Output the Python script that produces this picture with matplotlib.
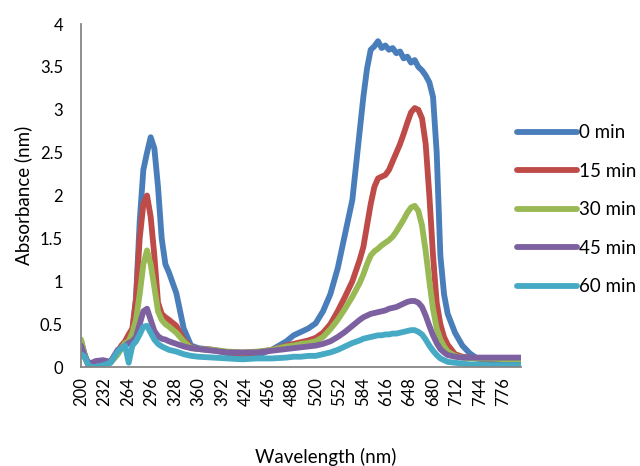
import numpy as np
import matplotlib.pyplot as plt

plt.rcParams['font.family'] = ['Lato', 'DejaVu Sans']

wl = [200, 205, 210, 215, 220, 230, 240, 250, 255, 260, 265, 270, 275, 280, 285,
      290, 295, 300, 305, 310, 315, 320, 330, 340, 350, 360, 380, 400, 420, 440,
      460, 480, 490, 500, 510, 520, 530, 540, 550, 560, 570, 580, 585, 590, 595,
      600, 605, 610, 615, 620, 625, 630, 635, 640, 645, 650, 655, 660, 665, 670,
      675, 680, 685, 690, 695, 700, 710, 720, 730, 740, 760, 780, 800]

abs_0 = [0.30, 0.15, 0.03, 0.00, 0.00, 0.02, 0.05, 0.15, 0.22, 0.25, 0.30, 0.40, 0.80, 1.70, 2.30,
         2.50, 2.68, 2.55, 2.10, 1.50, 1.20, 1.10, 0.86, 0.45, 0.25, 0.22, 0.20, 0.16, 0.12, 0.14,
         0.20, 0.30, 0.37, 0.41, 0.45, 0.51, 0.65, 0.85, 1.15, 1.55, 1.95, 2.75, 3.15, 3.48, 3.70,
         3.74, 3.80, 3.72, 3.75, 3.70, 3.72, 3.66, 3.68, 3.60, 3.62, 3.55, 3.58, 3.50, 3.46, 3.40,
         3.32, 3.15, 2.50, 1.30, 0.85, 0.62, 0.40, 0.25, 0.16, 0.10, 0.06, 0.04, 0.03]

abs_15 = [0.30, 0.12, 0.02, 0.00, 0.00, 0.00, 0.06, 0.18, 0.25, 0.30, 0.38, 0.45, 0.80, 1.50, 1.90,
          2.00, 1.75, 1.30, 0.75, 0.62, 0.58, 0.55, 0.48, 0.32, 0.23, 0.21, 0.20, 0.17, 0.16, 0.17,
          0.20, 0.25, 0.27, 0.29, 0.31, 0.34, 0.40, 0.50, 0.65, 0.82, 1.00, 1.25, 1.40, 1.65, 1.90,
          2.10, 2.20, 2.22, 2.24, 2.30, 2.40, 2.50, 2.60, 2.72, 2.85, 2.97, 3.02, 3.00, 2.90, 2.60,
          2.00, 1.30, 0.75, 0.50, 0.35, 0.26, 0.15, 0.12, 0.11, 0.10, 0.10, 0.10, 0.10]

abs_30 = [0.32, 0.13, 0.03, 0.00, 0.00, 0.00, 0.05, 0.15, 0.22, 0.28, 0.30, 0.40, 0.55, 0.85, 1.20,
          1.36, 1.20, 0.93, 0.65, 0.55, 0.50, 0.47, 0.40, 0.30, 0.22, 0.21, 0.20, 0.18, 0.17, 0.18,
          0.20, 0.24, 0.25, 0.27, 0.28, 0.30, 0.35, 0.44, 0.55, 0.68, 0.82, 0.98, 1.08, 1.20, 1.30,
          1.35, 1.38, 1.42, 1.45, 1.48, 1.52, 1.58, 1.65, 1.72, 1.80, 1.86, 1.88, 1.82, 1.65, 1.35,
          1.00, 0.68, 0.45, 0.32, 0.24, 0.18, 0.13, 0.11, 0.10, 0.10, 0.10, 0.09, 0.09]

abs_45 = [0.25, 0.12, 0.05, 0.05, 0.07, 0.08, 0.06, 0.20, 0.22, 0.25, 0.28, 0.30, 0.35, 0.50, 0.65,
          0.68, 0.55, 0.42, 0.36, 0.33, 0.32, 0.30, 0.27, 0.24, 0.22, 0.21, 0.19, 0.17, 0.17, 0.17,
          0.19, 0.21, 0.22, 0.23, 0.24, 0.25, 0.27, 0.30, 0.35, 0.41, 0.48, 0.55, 0.58, 0.60, 0.62,
          0.63, 0.64, 0.65, 0.66, 0.68, 0.69, 0.70, 0.72, 0.74, 0.76, 0.77, 0.77, 0.75, 0.70, 0.60,
          0.48, 0.37, 0.28, 0.21, 0.17, 0.14, 0.12, 0.11, 0.11, 0.11, 0.11, 0.11, 0.11]

abs_60 = [0.15, 0.12, 0.02, 0.00, 0.00, 0.02, 0.05, 0.18, 0.22, 0.25, 0.05, 0.25, 0.30, 0.38, 0.47,
          0.48, 0.40, 0.32, 0.27, 0.24, 0.22, 0.20, 0.18, 0.15, 0.13, 0.12, 0.11, 0.10, 0.09, 0.10,
          0.10, 0.11, 0.12, 0.12, 0.13, 0.13, 0.15, 0.17, 0.20, 0.24, 0.28, 0.31, 0.33, 0.34, 0.35,
          0.36, 0.37, 0.37, 0.38, 0.38, 0.39, 0.39, 0.40, 0.41, 0.42, 0.43, 0.43, 0.41, 0.38, 0.32,
          0.25, 0.19, 0.14, 0.10, 0.08, 0.06, 0.05, 0.04, 0.03, 0.03, 0.02, 0.02, 0.02]

labels = ['0 min', '15 min', '30 min', '45 min', '60 min']
colors = ['#4A7EBB', '#BE4B48', '#98B954', '#7D60A0', '#46AAC5']
xticks = list(range(200, 800, 32))

fig = plt.figure(figsize=(6.4, 4.66), dpi=100)
ax = fig.add_axes([0.1266, 0.2124, 0.6875, 0.736])

for y, lab, c in zip([abs_0, abs_15, abs_30, abs_45, abs_60], labels, colors):
    ax.plot(wl, y, color=c, lw=4.2, label=lab, solid_capstyle='round', solid_joinstyle='round')

ax.set_xlim(200, 800)
ax.set_ylim(0, 4)
ax.set_xticks(xticks)
ax.set_xticklabels([str(t) for t in xticks], rotation=90)
ax.set_yticks([0, 0.5, 1, 1.5, 2, 2.5, 3, 3.5, 4])
ax.set_yticklabels(['0', '0.5', '1', '1.5', '2', '2.5', '3', '3.5', '4'])
ax.tick_params(axis='both', length=0, labelsize=12)
ax.tick_params(axis='y', pad=13)
ax.tick_params(axis='x', pad=7)

for s in ['top', 'right']:
    ax.spines[s].set_visible(False)
for s in ['left', 'bottom']:
    ax.spines[s].set_color('#868686')
    ax.spines[s].set_linewidth(1.3)

ax.set_xlabel('Wavelength (nm)', fontsize=13.5)
ax.xaxis.set_label_coords(0.555, -0.235)
ax.set_ylabel('Absorbance (nm)', fontsize=13.5)
ax.yaxis.set_label_coords(-0.112, 0.5)

ax.legend(loc='center left', bbox_to_anchor=(0.808, 0.55), bbox_transform=fig.transFigure,
          frameon=False, fontsize=13.5, handlelength=3.2, handletextpad=0.1,
          labelspacing=1.15, borderpad=0, borderaxespad=0)

fig.savefig('out.png', dpi=100)
